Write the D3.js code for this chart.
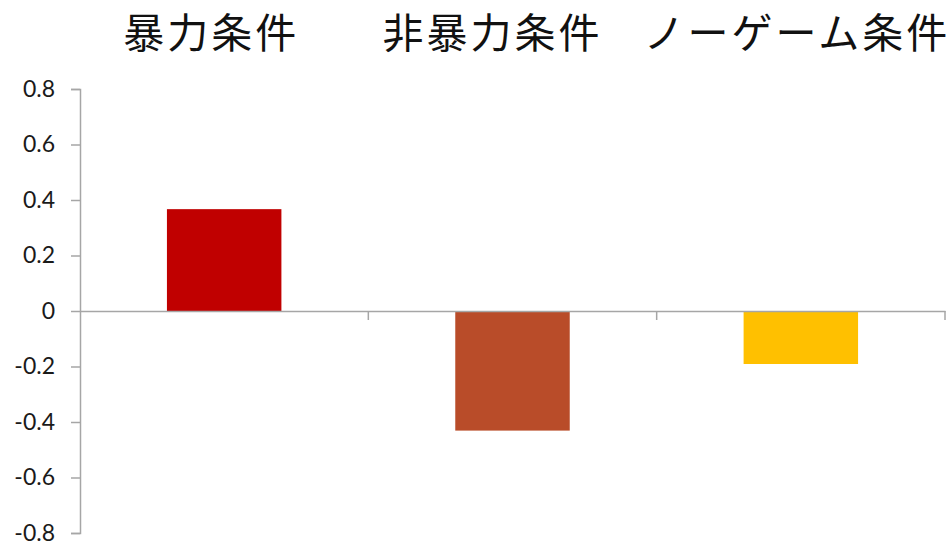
<!DOCTYPE html>
<html><head><meta charset="utf-8">
<script src="https://cdn.jsdelivr.net/npm/d3@7"></script>
<style>body{margin:0;background:#fff}</style>
</head><body>
<script>
const categories = ["暴力条件", "非暴力条件", "ノーゲーム条件"];
const values = [0.367, -0.431, -0.191];
const colors = ["#C00000", "#B94C29", "#FFC000"];
const yTicks = [0.8, 0.6, 0.4, 0.2, 0, -0.2, -0.4, -0.6, -0.8];
const yTickLabels = ["0.8", "0.6", "0.4", "0.2", "0", "-0.2", "-0.4", "-0.6", "-0.8"];

const W = 950, H = 548;
const svg = d3.select("body").append("svg").attr("width", W).attr("height", H);

const x = d3.scaleBand().domain(categories).range([80, 945]).padding(0);
const y = d3.scaleLinear().domain([-0.8, 0.8]).range([533, 89]);
const barFrac = 0.397;
const titleOffsets = [-13, -20, -4];

// y axis
const yAxis = d3.axisLeft(y).tickValues(yTicks).tickSize(9).tickPadding(16)
  .tickFormat((d, i) => yTickLabels[i]);
const gy = svg.append("g").attr("transform", "translate(80,0)").call(yAxis);
gy.select(".domain").attr("stroke", "#A6A6A6").attr("stroke-width", 1.5);
gy.selectAll(".tick line").attr("stroke", "#A6A6A6").attr("stroke-width", 1.5);
gy.selectAll(".tick text").attr("font-family", "Lato, 'Open Sans', sans-serif")
  .attr("font-size", 23).attr("fill", "#1a1a1a");

// bars
svg.append("g").selectAll("rect").data(values).join("rect")
  .attr("x", (d, i) => x(categories[i]) + x.bandwidth() * (1 - barFrac) / 2)
  .attr("width", x.bandwidth() * barFrac)
  .attr("y", d => y(Math.max(0, d)))
  .attr("height", d => Math.abs(y(d) - y(0)))
  .attr("fill", (d, i) => colors[i]);

// zero-line category axis
const xAxis = d3.axisBottom(x).tickSize(0).tickFormat("");
const gx = svg.append("g").attr("transform", `translate(0,${y(0)})`).call(xAxis);
gx.select(".domain").attr("stroke", "#A6A6A6").attr("stroke-width", 1.5);
gx.selectAll(".tick").remove();
const bounds = categories.map(c => x(c) + x.bandwidth());
gx.selectAll("line.sep").data(bounds).join("line").attr("class", "sep")
  .attr("x1", d => d).attr("x2", d => d).attr("y1", 0).attr("y2", 9)
  .attr("stroke", "#A6A6A6").attr("stroke-width", 1.5);

// category titles at top
svg.append("g").selectAll("text").data(categories).join("text")
  .attr("x", (d, i) => x(d) + x.bandwidth() / 2 + titleOffsets[i])
  .attr("y", 48)
  .attr("text-anchor", "middle")
  .attr("font-family", "'Noto Sans CJK JP', sans-serif")
  .attr("font-size", 41)
  .attr("letter-spacing", 3)
  .attr("fill", "#111")
  .text(d => d);
</script>
</body></html>
